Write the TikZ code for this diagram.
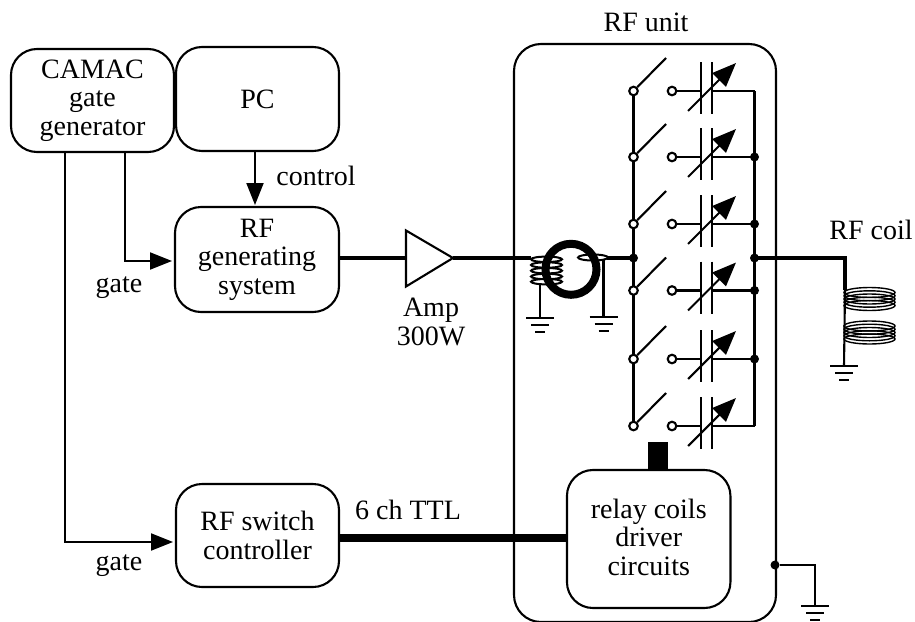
\documentclass[tikz,border=0pt]{standalone}
\usepackage{fontspec}
\setmainfont{Liberation Serif}
\usetikzlibrary{arrows.meta,calc}
\tikzset{
  x=1pt,y=-1pt,
  wire/.style={line width=2.1pt},
  fat/.style={line width=4.2pt},
  bus/.style={line width=7.6pt},
  flow/.style={wire,-{Triangle[length=22pt,width=17pt]}},
  block/.style={draw,line width=2.1pt,rounded corners=26pt,align=center,font=\fontsize{28}{28.5}\selectfont,inner sep=0pt},
  lab/.style={font=\fontsize{28}{28.5}\selectfont,align=center,inner sep=0pt},
  dot/.style={circle,fill=black,inner sep=0pt,minimum size=9pt},
  open/.style={circle,draw,fill=white,line width=2.1pt,inner sep=0pt,minimum size=8.6pt},
}
\newcommand{\gnd}[1]{%
  \draw[wire] ($(#1)+(-14,0)$) -- ($(#1)+(14,0)$);
  \draw[wire] ($(#1)+(-9,7)$) -- ($(#1)+(9,7)$);
  \draw[wire] ($(#1)+(-5,14)$) -- ($(#1)+(5,14)$);
}
\newcommand{\branch}[2]{%
  \node[open] (sw#1) at (633.5,#2) {};
  \node[open] (ct#1) at (672,#2) {};
  \coordinate (pa#1) at (701,#2);
  \coordinate (pb#1) at (712,#2);
  \coordinate (arm#1) at (666,#2-33);
  \coordinate (bu#1) at (754.5,#2);
  \draw[wire] (sw#1) -- (arm#1);
  \draw[wire] (ct#1) -- (pa#1);
  \draw[wire] (pa#1) ++(0,-29) -- ++(0,52);
  \draw[wire] (pb#1) ++(0,-29) -- ++(0,52);
  \draw[wire] (pb#1) -- (bu#1);
  \draw[wire,-{Triangle[length=24pt,width=19pt]}] (688,#2+20) -- (736,#2-28);
}
\begin{document}
\begin{tikzpicture}
\useasboundingbox (0,0) rectangle (915,621);
\fill[white] (0,0) rectangle (915,621);
\begin{scope}
\clip (0,0) rectangle (915,621);
\node[draw,line width=2.1pt,rounded corners=27pt,minimum width=262pt,minimum height=578pt,inner sep=0pt] (unit) at (645,333) {};
\end{scope}
\node[lab] (unitl) at (646,22) {RF unit};
\node[block,minimum width=163pt,minimum height=103pt] (camac) at (92.5,100.5) {CAMAC\\gate\\generator};
\node[block,minimum width=163pt,minimum height=104pt] (pc) at (257.5,99) {PC};
\node[block,minimum width=164pt,minimum height=105pt] (gen) at (257,259.5) {RF\\generating\\system};
\node[block,minimum width=163pt,minimum height=103pt] (swc) at (257.5,535.5) {RF switch\\controller};
\node[block,minimum width=163.5pt,minimum height=138pt] (relay) at (648.7,539) {relay coils\\driver\\circuits\rule[-4pt]{0pt}{4pt}};
\node[lab] (ctl) at (316,176) {control};
\node[lab] (g1) at (119,288) {gate};
\node[lab] (g2) at (119,566) {gate};
\node[lab] (amp) at (431,322) {Amp\\300W};
\node[lab] (ttl) at (408,510) {6 ch TTL};
\node[lab] (coil) at (871,230) {RF coil};
% arrows
\draw[flow] (255,151) -- (255,205);
\draw[flow] (125,152) -- (125,261) -- (172,261);
\draw[flow] (65,152) -- (65,542) -- (173,542);
% amp
\coordinate (ampin) at (406,258);
\coordinate (ampout) at (453,258);
\draw[wire,line join=miter] (406,230.5) -- (ampout) -- (406,286.5) -- cycle;
\coordinate (jl) at (633.5,258);
\coordinate (jr) at (754.5,258);
\draw[fat] (gen.east|-ampin) -- (ampin);
\draw[fat] (ampout) -- (531,258);
\draw[bus] (swc.east|-0,538) -- (relay.west|-0,538);
% coupler
\foreach \yy in {259.3,265,270.7,276.5,281.7}{
  \draw[line width=2pt,fill=white] (546.5,\yy) ellipse (15.5 and 2.7);
}
\coordinate (g1a) at (540,318);
\draw[wire] (540,284) -- (g1a);
\gnd{g1a}
\coordinate (g2a) at (603.5,317);
\draw[line width=2pt,fill=white] (593,257.5) ellipse (15 and 3);
\draw[wire] (603.5,259) -- (g2a);
\gnd{g2a}
\draw[line width=8pt] (571,269.3) circle (25.5);
\draw[fat] (607,258) -- (jl);
% branches
\draw[wire] (633.5,91) -- (633.5,426);
\draw[wire] (754.5,91) -- (754.5,426);
\branch{a}{91}
\branch{b}{157}
\branch{c}{224}
\branch{d}{290.5}
\branch{e}{359}
\branch{f}{426}
\foreach \n in {b,c,d,e}{\node[dot] at (bu\n) {};}
\node[dot] (jrd) at (jr) {};
\node[dot] (jld) at (jl) {};
% output
\coordinate (kn) at (845,258);
\coordinate (ct) at (845,290);
\draw[fat,line join=miter] (jr) -- (kn) -- (ct);
\coordinate (cg) at (844,366);
\draw[wire] (ct) -- (cg);
\gnd{cg}
\foreach \yy in {292.5,295.8,299,302.2,305.5,326,329.2,332.5,335.8,339}{
  \draw[line width=1.4pt] (869.5,\yy) ellipse (25.5 and 5);
}
% block to relay
\fill (647.7,442) rectangle (667.7,470);
% unit ground
\node[dot] (ug) at (775,565) {};
\coordinate (ug2) at (815,565);
\coordinate (ug3) at (815,606);
\draw[wire] (ug) -- (ug2) -- (ug3);
\gnd{ug3}
\end{tikzpicture}
\end{document}
